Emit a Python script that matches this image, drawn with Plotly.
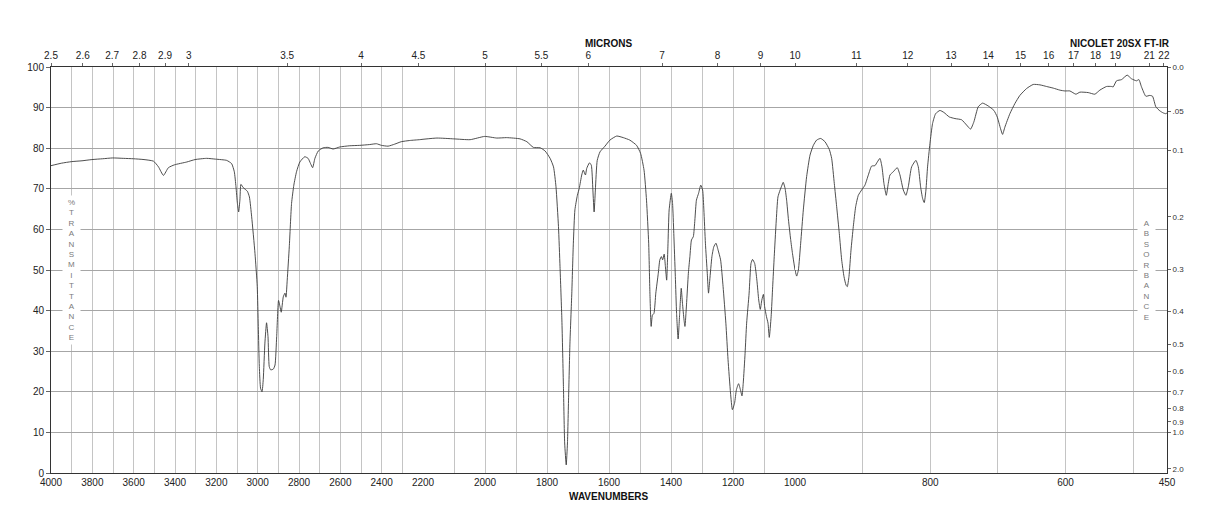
import plotly.graph_objects as go

# ---------------- data ----------------
wavenumber = [
    4000, 3950, 3899, 3850, 3802, 3750, 3702, 3650, 3601, 3550, 3504, 3480, 3456, 3432, 3403,
    3343, 3303, 3247, 3203, 3150, 3126, 3113, 3105, 3098, 3092, 3086, 3081, 3070, 3050, 3040,
    3029, 3013, 3002, 2997, 2992, 2986, 2979, 2973, 2965, 2957, 2950, 2944, 2937, 2924, 2916,
    2908, 2899, 2892, 2886, 2876, 2868, 2863, 2857, 2847, 2836, 2825, 2812, 2796, 2772, 2756,
    2744, 2734, 2723, 2707, 2683, 2659, 2635, 2603, 2554, 2506, 2458, 2425, 2401, 2369, 2337,
    2305, 2264, 2216, 2200,
    2155, 2101, 2048, 2001, 1962, 1930, 1887, 1865, 1844, 1822, 1806, 1790, 1779, 1771, 1763,
    1758, 1752, 1747, 1743, 1738, 1734, 1730, 1726, 1720, 1715, 1710, 1702, 1696, 1688, 1683,
    1676, 1672, 1663, 1657, 1652, 1648, 1644, 1638, 1629, 1613, 1597, 1575, 1554, 1533, 1511,
    1498, 1487, 1479, 1472, 1468, 1464, 1460, 1455, 1449, 1441, 1436, 1431, 1427, 1422, 1418,
    1414, 1410, 1406, 1399, 1395, 1391, 1386, 1382, 1377, 1372, 1367, 1363, 1358, 1355, 1350,
    1344, 1339, 1334, 1328, 1323, 1318, 1311, 1304, 1298, 1294, 1289, 1283, 1279, 1275, 1268,
    1262, 1255, 1248, 1240, 1232, 1223, 1216, 1208, 1202, 1195, 1189, 1182, 1176, 1171, 1167,
    1161, 1156, 1148, 1142, 1137, 1130, 1123, 1117, 1112, 1107, 1102, 1098, 1092, 1087, 1083,
    1077, 1072, 1067, 1061, 1055, 1048, 1043, 1038, 1032, 1027, 1021, 1014, 1008, 1000,
    997.5, 995, 991.6, 987.7, 982.8, 977.8, 972.9, 968, 962, 955.7, 949.3, 945.8, 941.9, 938.4,
    934.5, 931, 927.6, 924.6, 922.7, 920.2, 917.2, 913.8, 910.3, 906.4, 901.5, 896.6, 891.6,
    886.7, 881.8, 878.3, 874.4, 871.4, 868.5, 865, 862.1, 859.6, 854.7, 848.8, 844.8, 839.9,
    836, 832.5, 827.6, 821.2, 817.7, 814.3, 811.3, 808.9, 806.4, 804, 800.5, 796.6, 792.1,
    785.7, 779.8, 771.9, 763.5, 753.7, 746.3, 740.4, 735.5, 729.1, 722.7, 714.3, 705.9, 701,
    696.1, 693.1, 689.7, 682.3, 674.9, 667.5, 657.6, 647.8, 637.9, 628.1, 618.2, 608.4, 601,
    593.6, 584.7, 578.8, 566.5, 556.7, 549.3, 539.4, 532, 529.6, 524.6, 517.2, 508.9, 502.5,
    495.1, 491.6, 487.7, 481.3, 475.4, 471.4, 466.5, 460.6, 455.7, 451.7, 450,
]
transmittance = [
    75.7, 76.3, 76.7, 76.9, 77.2, 77.4, 77.6, 77.5, 77.4, 77.2, 76.8, 75.4, 73.3, 75.2, 75.9,
    76.6, 77.2, 77.5, 77.3, 77.0, 76.2, 74.2, 70.5, 66.4, 64.3, 67.2, 71.1, 70.3, 69.4, 68.0,
    63.1, 54.1, 45.9, 36.1, 26.2, 20.9, 20.0, 23.0, 32.0, 37.0, 33.6, 26.2, 25.4, 25.6, 26.6,
    33.6, 42.5, 41.0, 39.6, 43.4, 44.3, 43.3, 47.5, 55.7, 66.4, 70.9, 74.2, 76.6, 77.9, 77.5,
    76.2, 75.2, 77.5, 79.3, 80.1, 80.2, 79.8, 80.3, 80.6, 80.7, 80.9, 81.1, 80.7, 80.5, 81.0,
    81.6, 81.9, 82.1, 82.2,
    82.5, 82.3, 82.1, 82.9, 82.5, 82.6, 82.3, 81.6, 80.2, 80.1, 79.3, 77.5, 75.4, 70.5, 60.7,
    50.8, 37.7, 21.3, 7.4, 2.0, 7.4, 19.7, 32.0, 44.3, 56.6, 64.8, 68.4, 70.1, 73.4, 74.6,
    73.4, 75.0, 76.4, 75.8, 69.7, 64.3, 69.7, 77.0, 79.1, 80.5, 82.0, 83.0, 82.6, 82.0, 80.7,
    78.7, 74.6, 67.2, 56.6, 44.3, 36.1, 38.9, 39.3, 44.3, 49.2, 52.5, 53.3, 52.5, 53.9, 50.8,
    47.5, 55.7, 64.8, 68.9, 66.4, 59.0, 48.4, 39.3, 33.0, 39.3, 45.5, 41.8, 37.7, 36.1, 41.4,
    49.2, 53.3, 57.4, 58.2, 62.3, 67.2, 68.9, 70.9, 69.7, 64.8, 56.6, 49.2, 44.3, 47.5, 53.3,
    55.7, 56.6, 54.9, 52.5, 45.9, 36.9, 27.9, 19.7, 15.6, 17.2, 20.5, 22.0, 20.5, 19.0, 22.1,
    29.5, 36.9, 44.3, 51.6, 52.6, 51.6, 47.5, 42.6, 40.3, 42.6, 44.0, 41.0, 38.5, 36.9, 33.4,
    38.5, 45.9, 53.3, 61.5, 68.0, 69.7, 70.7, 71.6, 70.1, 67.2, 62.3, 57.5, 54.0, 50.0,
    48.5, 50.0, 56.6, 64.8, 73.0, 78.3, 80.7, 82.0, 82.4, 81.6, 79.7, 77.5, 71.3, 65.6,
    59.0, 52.5, 48.4, 46.3, 45.9, 48.4, 54.9, 60.7, 65.6, 68.4, 69.7, 70.9, 73.4,
    75.6, 75.7, 76.6, 77.5, 75.4, 71.3, 68.4, 71.3, 73.4, 74.2, 75.2, 73.4, 69.7,
    68.4, 70.5, 75.4, 77.0, 75.4, 70.5, 67.6, 66.6, 69.7, 75.4, 81.1, 86.1, 88.5,
    89.3, 88.8, 87.7, 87.3, 87.0, 85.7, 84.7, 86.5, 90.2, 91.1, 90.4, 89.3, 87.7,
    84.8, 83.4, 85.2, 88.5, 91.0, 93.0, 94.7, 95.7, 95.6, 95.2, 94.8, 94.3, 94.1,
    94.1, 93.3, 93.8, 93.7, 93.3, 94.3, 95.2, 95.2, 95.1, 96.6, 96.9, 98.0, 97.1,
    96.6, 96.9, 95.1, 92.8, 93.0, 92.8, 90.2, 89.2, 88.7, 88.5, 88.7,
]

# x-axis is drawn in three equally wide, linear sections
segments = [(4000, 2200), (2200, 1000), (1000, 450)]
wn_grid = [
    list(range(4000, 2200, -100)),
    list(range(2200, 1000, -100)),
    [1000, 900, 800, 700, 600, 500, 450],
]
wn_labels = [
    [str(v) if v % 200 == 0 else "" for v in wn_grid[0]],
    [str(v) if v % 200 == 0 else "" for v in wn_grid[1]],
    ["1000", "", "800", "", "600", "", "450"],
]
micron_ticks = [
    [2.5, 2.6, 2.7, 2.8, 2.9, 3, 3.5, 4, 4.5],
    [5, 5.5, 6, 7, 8, 9, 10],
    [11, 12, 13, 14, 15, 16, 17, 18, 19, 21, 22],
]
absorbance_vals = [0.0, 0.05, 0.1, 0.2, 0.3, 0.4, 0.5, 0.6, 0.7, 0.8, 0.9, 1.0, 2.0]
absorbance_labels = ["0.0", ".05", "0.1", "0.2", "0.3", "0.4", "0.5", "0.6", "0.7",
                     "0.8", "0.9", "1.0", "2.0"]
transmittance_ticks = list(range(0, 101, 10))

# ---------------- figure ----------------
FONT = "Liberation Sans, Arial, Helvetica, sans-serif"
AXIS = "#333333"
VGRID = "#c4c4c4"
HGRID = "#a6a6a6"

fig = go.Figure()
bottom_ids = ["x", "x2", "x3"]
top_ids = ["x4", "x5", "x6"]

for i, (hi, lo) in enumerate(segments):
    xs = [w for w in wavenumber if lo <= w <= hi]
    ys = [t for w, t in zip(wavenumber, transmittance) if lo <= w <= hi]
    fig.add_trace(go.Scatter(
        x=xs, y=ys, mode="lines", xaxis=bottom_ids[i], yaxis="y",
        line=dict(color="#3a3a3a", width=0.9, shape="spline", smoothing=0.5),
        showlegend=False, hoverinfo="skip",
    ))
    # invisible helper traces so the top (micron) axes exist
    fig.add_trace(go.Scatter(
        x=[hi, lo], y=[None, None], mode="lines", xaxis=top_ids[i], yaxis="y",
        showlegend=False, hoverinfo="skip",
    ))
fig.add_trace(go.Scatter(x=[1000, 450], y=[None, None], mode="lines",
                         xaxis="x3", yaxis="y2", showlegend=False, hoverinfo="skip"))

layout = dict(
    width=1218, height=528,
    margin=dict(l=51, r=51, t=67, b=55),
    paper_bgcolor="white", plot_bgcolor="white",
    font=dict(family=FONT, color="#222222", size=10),
    showlegend=False,
)

for i, (hi, lo) in enumerate(segments):
    dom = [i / 3, (i + 1) / 3]
    key = "xaxis" if i == 0 else f"xaxis{i + 1}"
    layout[key] = dict(
        domain=dom, range=[hi, lo], anchor="y",
        tickmode="array", tickvals=wn_grid[i], ticktext=wn_labels[i],
        showgrid=True, gridcolor=VGRID, gridwidth=1, zeroline=False,
        showline=True, linecolor=AXIS, linewidth=1, ticks="",
        tickfont=dict(size=10, family=FONT, color="#222"),
    )
    tkey = f"xaxis{i + 4}"
    layout[tkey] = dict(
        overlaying=bottom_ids[i], side="top", anchor="y", range=[hi, lo],
        tickmode="array",
        tickvals=[10000.0 / m for m in micron_ticks[i]],
        ticktext=[f"{m:g}" for m in micron_ticks[i]],
        showgrid=False, zeroline=False, showline=True, linecolor=AXIS, linewidth=1,
        ticks="outside", ticklen=3, tickcolor="#666",
        tickfont=dict(size=10, family=FONT, color="#222"),
    )

layout["yaxis"] = dict(
    domain=[0, 1], range=[0, 100], anchor="x",
    tickmode="array", tickvals=transmittance_ticks,
    showgrid=True, gridcolor=HGRID, gridwidth=1, zeroline=False,
    showline=True, linecolor=AXIS, linewidth=1,
    ticks="outside", ticklen=4, tickcolor="#666",
    tickfont=dict(size=10, family=FONT, color="#222"),
)
layout["yaxis2"] = dict(
    overlaying="y", side="right", anchor="x3", range=[0, 100],
    tickmode="array",
    tickvals=[100 * 10 ** (-a) for a in absorbance_vals],
    ticktext=absorbance_labels,
    showgrid=False, zeroline=False, showline=True, linecolor=AXIS, linewidth=1,
    ticks="outside", ticklen=3, tickcolor="#666",
    tickfont=dict(size=8, family=FONT, color="#333"),
)

fig.update_layout(**layout)

stack = lambda s: "<br>".join(s)
fig.add_annotation(text="<b>MICRONS</b>", xref="paper", yref="paper", x=0.5, y=1.057,
                   showarrow=False, font=dict(size=10, family=FONT, color="#111"),
                   xanchor="center", yanchor="middle")
fig.add_annotation(text="<b>NICOLET 20SX FT-IR</b>", xref="paper", yref="paper",
                   x=1.0045, y=1.057, showarrow=False,
                   font=dict(size=10, family=FONT, color="#111"),
                   xanchor="right", yanchor="middle")
fig.add_annotation(text="<b>WAVENUMBERS</b>", xref="paper", yref="paper", x=0.5, y=-0.057,
                   showarrow=False, font=dict(size=10, family=FONT, color="#111"),
                   xanchor="center", yanchor="middle")
fig.add_annotation(text=stack("%TRANSMITTANCE"), xref="x", yref="y", x=3900, y=50,
                   showarrow=False, font=dict(size=8, family=FONT, color="#7a7a7a"),
                   bgcolor="white", borderpad=2, width=13, align="center")
fig.add_annotation(text=stack("ABSORBANCE"), xref="x3", yref="y", x=480, y=50,
                   showarrow=False, font=dict(size=8, family=FONT, color="#7a7a7a"),
                   bgcolor="white", borderpad=2, width=13, align="center")

fig.write_html("out.html")
